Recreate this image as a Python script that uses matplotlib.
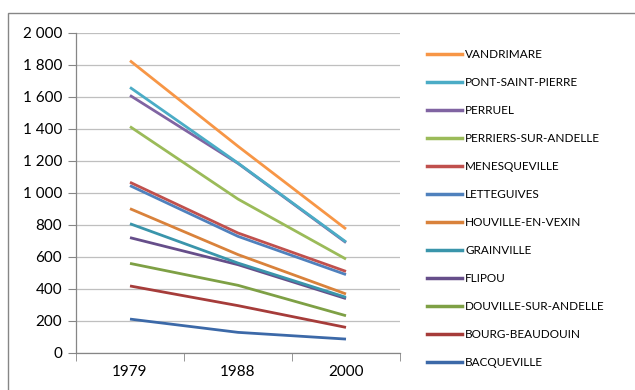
import matplotlib
matplotlib.use("Agg")
import matplotlib.pyplot as plt
from matplotlib.patches import Rectangle
from matplotlib.lines import Line2D

plt.rcParams['font.family'] = ['Lato', 'DejaVu Sans']

years = ['1979', '1988', '2000']
communes = ['VANDRIMARE', 'PONT-SAINT-PIERRE', 'PERRUEL', 'PERRIERS-SUR-ANDELLE',
            'MENESQUEVILLE', 'LETTEGUIVES', 'HOUVILLE-EN-VEXIN', 'GRAINVILLE',
            'FLIPOU', 'DOUVILLE-SUR-ANDELLE', 'BOURG-BEAUDOUIN', 'BACQUEVILLE']
vandrimare = [1827, 1292, 775]
pont_saint_pierre = [1660, 1187, 694]
perruel = [1610, 1185, 690]
perriers = [1415, 962, 587]
menesqueville = [1067, 750, 510]
letteguives = [1046, 729, 490]
houville = [902, 615, 369]
grainville = [808, 562, 348]
flipou = [721, 552, 340]
douville = [560, 423, 233]
bourg = [419, 296, 160]
bacqueville = [212, 129, 87]

series = [vandrimare, pont_saint_pierre, perruel, perriers, menesqueville,
          letteguives, houville, grainville, flipou, douville, bourg, bacqueville]
colors = ['#F79646', '#4BACC6', '#8064A2', '#9BBB59', '#C0504D', '#4F81BD',
          '#D9823B', '#3A95AB', '#664E8A', '#7EA045', '#A63C3A', '#3C69A8']

fig = plt.figure(figsize=(6.35, 3.90), dpi=100)
fig.patches.append(Rectangle((8 / 635, -0.01), 1.0, 1 - 13 / 390 + 0.01,
                             transform=fig.transFigure, fill=False,
                             edgecolor='#868686', linewidth=1.0))

ax = fig.add_axes([76 / 635, 1 - 353 / 390, 324 / 635, 320 / 390])
x = range(len(years))
# draw bottom series first so upper ones sit on top
for name, vals, c in reversed(list(zip(communes, series, colors))):
    ax.plot(x, vals, color=c, linewidth=2.0, solid_capstyle='butt')

ax.set_xlim(-0.5, 2.5)
ax.set_ylim(0, 2000)
ax.set_yticks(range(0, 2001, 200))
ax.set_yticklabels([f'{v:,}'.replace(',', ' ') for v in range(0, 2001, 200)])
ax.set_xticks(list(x))
ax.set_xticklabels(years)
ax.set_xticks([-0.5, 0.5, 1.5, 2.5], minor=True)
ax.tick_params(axis='x', which='major', length=0, pad=9, labelsize=11)
ax.tick_params(axis='x', which='minor', length=6, color='#868686', direction='out')
ax.tick_params(axis='y', length=6, color='#868686', labelsize=11, pad=4)
ax.grid(axis='y', color='#BFBFBF', linewidth=0.9)
ax.set_axisbelow(True)
for s in ['top', 'right']:
    ax.spines[s].set_visible(False)
for s in ['left', 'bottom']:
    ax.spines[s].set_color('#868686')
    ax.spines[s].set_linewidth(0.9)

handles = [Line2D([], [], color=c, linewidth=2.5) for c in colors]
fig.legend(handles, communes, loc='upper left', bbox_to_anchor=(422 / 635, 1 - 44 / 390),
           frameon=False, fontsize=8.5, handlelength=3.0, handletextpad=0.25,
           labelspacing=1.44, borderaxespad=0)

fig.savefig('out.png', dpi=100)
